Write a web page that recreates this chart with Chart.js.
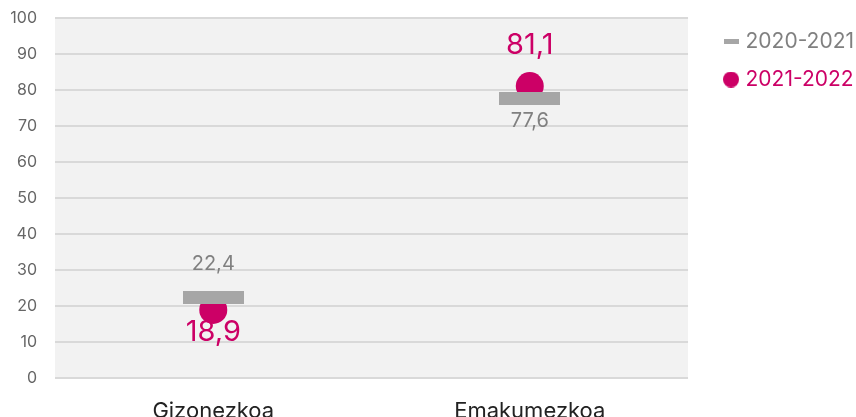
<!DOCTYPE html>
<html>
<head>
<meta charset="utf-8">
<script src="https://cdn.jsdelivr.net/npm/chart.js@4/dist/chart.umd.min.js"></script>
<style>
  html, body { margin: 0; padding: 0; background: #fff; overflow: hidden; }
  #wrap { width: 856px; height: 440px; position: relative; }
</style>
</head>
<body>
<div id="wrap"><canvas id="chart"></canvas></div>
<script>
// datos
const categories = ['Gizonezkoa', 'Emakumezkoa'];
const seriesNames = ['2020-2021', '2021-2022'];
const values2021 = [22.4, 77.6];
const values2022 = [18.9, 81.1];

const GRAY = '#a6a6a6';
const GRAY_TEXT = '#808080';
const PINK = '#cc0066';
const FONT = 'Inter, "Noto Sans", sans-serif';

// leyenda: ancho extra y desplazamiento
const LEGEND_EXTRA_W = 14;
const LEGEND_SHIFT_X = 22;

// marker canvases
function rectCanvas(w, h, color) {
    const c = document.createElement('canvas');
    c.width = w; c.height = h;
    const ctx = c.getContext('2d');
    ctx.fillStyle = color;
    ctx.fillRect(0, 0, w, h);
    return c;
}
function dotCanvas(r, color) {
    const c = document.createElement('canvas');
    c.width = r * 2; c.height = r * 2;
    const ctx = c.getContext('2d');
    ctx.fillStyle = color;
    ctx.beginPath();
    ctx.arc(r, r, r, 0, Math.PI * 2);
    ctx.fill();
    return c;
}
const barMark = rectCanvas(61, 13, GRAY);
const legendDash = rectCanvas(15, 5, GRAY);
const legendDot = dotCanvas(8, PINK);

// fondo gris del area
const areaBg = {
    id: 'areaBg',
    beforeDraw(chart) {
        const a = chart.chartArea, ctx = chart.ctx;
        ctx.save();
        ctx.fillStyle = '#f2f2f2';
        ctx.fillRect(a.left, a.top, a.right - a.left, a.bottom - a.top);
        ctx.restore();
    }
};

// ajustar la leyenda
const legendTweak = {
    id: 'legendTweak',
    afterInit(chart) {
        const lg = chart.legend;
        if (!lg) return;
        const fit = lg.fit, draw = lg.draw;
        lg.fit = function () { fit.call(this); this.width += LEGEND_EXTRA_W; };
        lg.draw = function () {
            this.ctx.save();
            this.ctx.translate(LEGEND_SHIFT_X, 0);
            draw.call(this);
            this.ctx.restore();
        };
    }
};

// etiquetas de valores
const valueLabels = {
    id: 'valueLabels',
    afterDatasetsDraw(chart) {
        const ctx = chart.ctx;
        ctx.save();
        ctx.textAlign = 'center';
        ctx.textBaseline = 'middle';
        categories.forEach((cat, i) => {
            const a = values2021[i], b = values2022[i];
            const pa = chart.getDatasetMeta(0).data[i];
            const pb = chart.getDatasetMeta(1).data[i];
            const pinkUp = b > a;
            // gris
            ctx.font = '20px ' + FONT;
            ctx.fillStyle = GRAY_TEXT;
            ctx.fillText(a.toFixed(1).replace('.', ','), pa.x, pinkUp ? pa.y + 22 : pa.y - 33);
            // rosa
            ctx.font = '29px ' + FONT;
            ctx.fillStyle = PINK;
            ctx.fillText(b.toFixed(1).replace('.', ','), pb.x, pinkUp ? pb.y - 41 : pb.y + 22);
        });
        ctx.restore();
    }
};

new Chart(document.getElementById('chart'), {
    type: 'line',
    data: {
        labels: categories,
        datasets: [{
            label: seriesNames[0],
            data: values2021,
            showLine: false,
            pointStyle: barMark,
            backgroundColor: GRAY,
            borderColor: GRAY
        }, {
            label: seriesNames[1],
            data: values2022,
            showLine: false,
            pointStyle: 'circle',
            pointRadius: 14,
            pointHoverRadius: 14,
            pointBorderWidth: 0,
            backgroundColor: PINK,
            borderColor: PINK
        }]
    },
    options: {
        responsive: true,
        maintainAspectRatio: false,
        animation: false,
        layout: { padding: { top: 14, right: 0, bottom: 0, left: 0 } },
        plugins: {
            tooltip: { enabled: false },
            legend: {
                position: 'right',
                align: 'start',
                labels: {
                    usePointStyle: true,
                    pointStyleWidth: 8,
                    padding: 17,
                    font: { family: FONT, size: 21 },
                    generateLabels(chart) {
                        return [
                            { text: seriesNames[0], pointStyle: legendDash, fontColor: GRAY_TEXT, datasetIndex: 0, lineWidth: 0 },
                            { text: seriesNames[1], pointStyle: legendDot, fontColor: PINK, datasetIndex: 1, lineWidth: 0 }
                        ];
                    }
                }
            }
        },
        scales: {
            x: {
                offset: true,
                grid: { display: false },
                border: { display: false },
                ticks: { color: '#222', padding: 12, font: { family: FONT, size: 22 } },
                afterFit(scale) { scale.height = 62; }
            },
            y: {
                min: 0,
                max: 100,
                ticks: { stepSize: 10, color: '#666', padding: 18, font: { family: FONT, size: 16 } },
                grid: { color: '#d9d9d9', lineWidth: 2, drawTicks: false },
                border: { display: false },
                afterFit(scale) {
                    scale.width = 55;
                    scale.paddingTop = 18;
                    scale.paddingBottom = 0;
                }
            }
        }
    },
    plugins: [areaBg, legendTweak, valueLabels]
});
</script>
</body>
</html>
